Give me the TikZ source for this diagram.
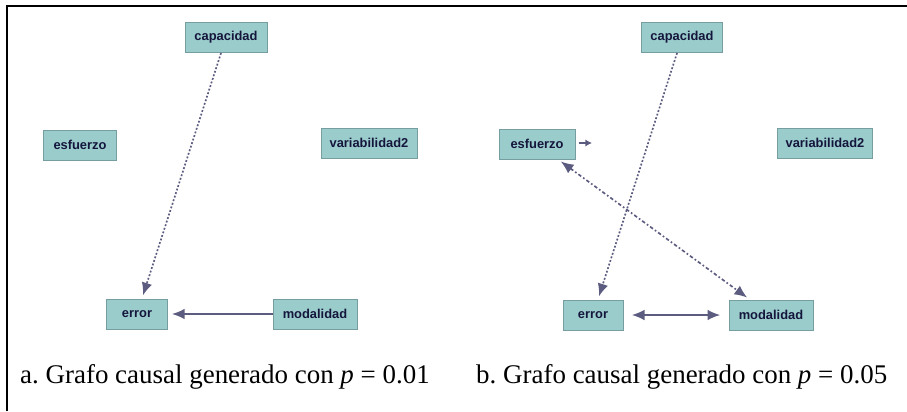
\documentclass[tikz,border=0pt]{standalone}
\usepackage{fontspec}
\setmainfont{Liberation Serif}
\newfontfamily\nodefont{Liberation Sans}
\usetikzlibrary{arrows.meta}
\definecolor{nodefill}{RGB}{155,204,204}
\definecolor{nodeline}{RGB}{118,158,160}
\definecolor{nodetext}{RGB}{20,22,60}
\definecolor{edgecol}{RGB}{92,92,128}
\tikzset{
  var/.style={draw=nodeline, line width=0.03cm, fill=nodefill, text=nodetext,
    font=\nodefont\fontsize{11}{13}\selectfont\bfseries,
    minimum height=0.9cm, inner sep=0pt},
  edge/.style={draw=edgecol, line width=0.05cm},
  dots/.style={dash pattern=on 1.6pt off 1.6pt},
  tip/.style={-{Latex[length=0.38cm,width=0.32cm]}},
  tips/.style={{Latex[length=0.38cm,width=0.32cm]}-{Latex[length=0.38cm,width=0.32cm]}},
  caption/.style={anchor=base west, inner sep=0pt, font=\fontsize{23}{27}\selectfont}
}
\begin{document}
\begin{tikzpicture}[x=0.03cm, y=-0.03cm]
                \useasboundingbox (0,0) rectangle (907,411);
                % Frame on top and left
                \draw [line width=0.06cm] (7,411) -- (7,6) -- (907,6);%
                
                % Graph a: marking nodes
                \node [var, minimum width=2.46cm] (capa) at (226,37.5) {capacidad};%
                \node [var, minimum width=2.2cm] (esfa) at (80,145) {esfuerzo};%
                \node [var, minimum width=2.88cm] (vara) at (369,143) {variabilidad2};%
                \node [var, minimum width=1.83cm] (erra) at (137,314) {error};%
                \node [var, minimum width=2.52cm] (moda) at (315,314) {modalidad};%
                
                % Graph a: drawing edges
                \draw [edge, tip, dots, shorten >=0.1cm] (capa) -- (erra);%
                \draw [edge, tip, shorten >=0.12cm] (moda) -- (erra);%
                
                % Graph b: marking nodes
                \node [var, minimum width=2.43cm] (capb) at (682,37.5) {capacidad};%
                \node [var, minimum width=2.28cm] (esfb) at (537,144) {esfuerzo};%
                \node [var, minimum width=2.85cm] (varb) at (825,143) {variabilidad2};%
                \node [var, minimum width=1.8cm] (errb) at (593,315) {error};%
                \node [var, minimum width=2.52cm] (modb) at (771,315) {modalidad};%
                \coordinate (stub) at (592,143);%
                
                % Graph b: drawing edges
                \draw [edge, tip, dots, shorten >=0.1cm] (capb) -- (errb);%
                \draw [edge, tips, dash dot, shorten <=0.1cm, shorten >=0.1cm] (esfb) -- (modb);%
                \draw [edge, tips, shorten <=0.25cm, shorten >=0.25cm] (errb) -- (modb);%
                \draw [edge, -{Latex[length=0.2cm,width=0.22cm]}, shorten <=0.1cm] (esfb.east |- stub) -- (stub);%
                
                % Captions
                \node [caption] (capta) at (20,383) {a.\ Grafo causal generado con \textit{p} = 0.01};%
                \node [caption] (captb) at (476,383) {b.\ Grafo causal generado con \textit{p} = 0.05};%
\end{tikzpicture}
\end{document}
